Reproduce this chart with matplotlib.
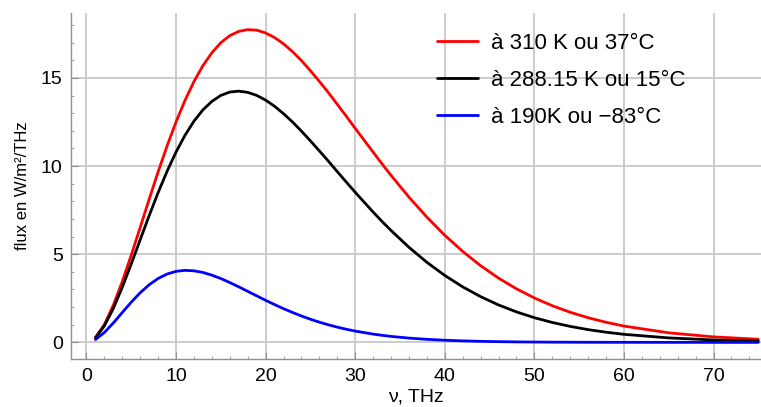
import numpy as np
import matplotlib
matplotlib.use('Agg')
import matplotlib.pyplot as plt
from matplotlib.ticker import MultipleLocator

plt.rcParams['font.family'] = ['Liberation Sans', 'DejaVu Sans']

# frequency in THz and spectral flux in W/m2/THz for each temperature
nu = [1, 2, 3, 4, 5, 6, 7, 8, 9, 10, 11, 12, 13, 14, 15, 16, 17, 18, 19,
      20, 21, 22, 23, 24, 25, 26, 27, 28, 29, 30,
      32, 33, 34, 36, 38, 40, 42, 44, 46, 48, 50, 52, 54, 56, 58, 60,
      65, 70, 75]
flux_310 = [0.277, 1.021, 2.116, 3.457, 4.955, 6.531, 8.124, 9.678, 11.15,
            12.51, 13.73, 14.80, 15.70, 16.43, 17.00, 17.40, 17.64, 17.74,
            17.71, 17.55, 17.29, 16.93, 16.49, 15.98, 15.41, 14.80, 14.17,
            13.50, 12.83, 12.14,
            10.79, 10.12, 9.475, 8.236, 7.105, 6.074, 5.158, 4.349, 3.645,
            3.039, 2.519, 2.079, 1.708, 1.398, 1.140, 0.925,
            0.542, 0.312, 0.177]
flux_288 = [0.256, 0.938, 1.930, 3.131, 4.455, 5.829, 7.194, 8.500, 9.712,
            10.80, 11.75, 12.55, 13.19, 13.67, 14.01, 14.20, 14.25, 14.18,
            14.01, 13.74, 13.39, 12.97, 12.50, 11.98, 11.43, 10.86, 10.28,
            9.684, 9.096, 8.513,
            7.391, 6.856, 6.345, 5.393, 4.542, 3.796, 3.148, 2.594, 2.123,
            1.729, 1.400, 1.129, 0.906, 0.724, 0.577, 0.457,
            0.253, 0.137, 0.074]
flux_190 = [0.161, 0.564, 1.103, 1.697, 2.283, 2.817, 3.270, 3.625, 3.877,
            4.029, 4.085, 4.059, 3.965, 3.813, 3.619, 3.394, 3.150, 2.895,
            2.639, 2.386, 2.143, 1.912, 1.696, 1.495, 1.312, 1.146, 0.997,
            0.863, 0.745, 0.641,
            0.469, 0.400, 0.339, 0.243, 0.173, 0.121, 0.085, 0.059, 0.041,
            0.028, 0.019, 0.013, 0.009, 0.006, 0.004, 0.003,
            0.001, 0.0, 0.0]

labels = [u'à 310 K ou 37°C', u'à 288.15 K ou 15°C', u'à 190K ou \u221283°C']
colors = ['#ff0000', '#000000', '#0000ff']

fig = plt.figure(figsize=(7.61, 4.07), dpi=100)
ax = fig.add_axes([71/761., 47.7/407., 1 - 71/761., 346.6/407.])

for f, lab, c in zip([flux_310, flux_288, flux_190], labels, colors):
    ax.plot(nu, f, color=c, lw=2.0, label=lab, solid_capstyle='round')

ax.set_xlim(-1.73, 75.3)
ax.set_ylim(-0.96, 18.7)

ax.xaxis.set_major_locator(MultipleLocator(10))
ax.xaxis.set_minor_locator(MultipleLocator(2))
ax.yaxis.set_major_locator(MultipleLocator(5))
ax.yaxis.set_minor_locator(MultipleLocator(1))

ax.grid(True, which='major', color='#c8c8c8', lw=1.3)
ax.set_axisbelow(True)

for s in ['top', 'right']:
    ax.spines[s].set_visible(False)
for s in ['left', 'bottom']:
    ax.spines[s].set_color('#909090')
    ax.spines[s].set_linewidth(1.0)

ax.tick_params(which='both', direction='in', color='#909090', labelsize=14)
ax.tick_params(which='major', length=5, pad=6)
ax.tick_params(which='minor', length=2.5)

ax.set_ylabel(u'flux en W/m\u00b2/THz', fontsize=12, labelpad=8)
# keep the axis label just inside the bottom edge
ax.set_xlabel(u'\u03bd, THz', fontsize=14, labelpad=3)

ax.legend(loc='upper left', bbox_to_anchor=(437/761., 1 - 33/407.),
          bbox_transform=fig.transFigure, frameon=False, fontsize=16,
          borderpad=0, borderaxespad=0, handlelength=1.85,
          handletextpad=0.6, labelspacing=0.72)

fig.savefig('out.png', dpi=100)
